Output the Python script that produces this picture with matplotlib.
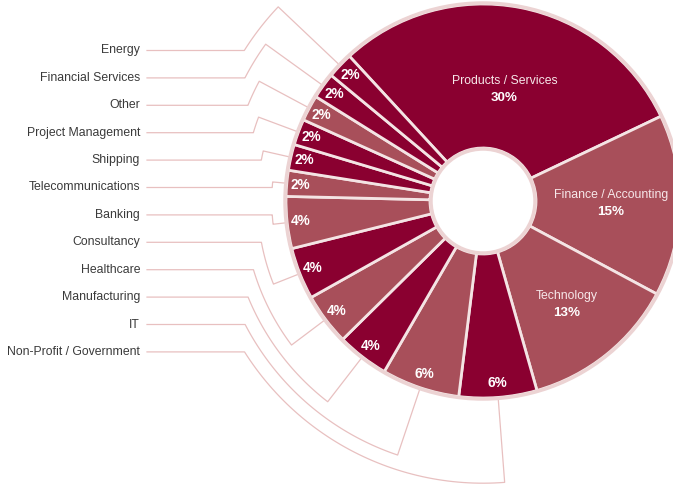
import numpy as np
import matplotlib
matplotlib.use("Agg")
import matplotlib.pyplot as plt
from matplotlib.patches import Circle

plt.rcParams['font.family'] = ['Liberation Sans', 'DejaVu Sans']

# ── data (clockwise from the top slice) ─────────────────────────────────────
sectors = ["Products / Services", "Finance / Accounting", "Technology",
           "Non-Profit / Government", "IT", "Manufacturing", "Healthcare",
           "Consultancy", "Banking", "Telecommunications", "Shipping",
           "Project Management", "Other", "Financial Services", "Energy"]
responses = [14, 7, 6, 3, 3, 2, 2, 2, 2, 1, 1, 1, 1, 1, 1]
inside_labels = ["Products / Services", "Finance / Accounting", "Technology"]

DARK, LIGHT = "#8a0030", "#a84f5a"
colors = [DARK, LIGHT, LIGHT, DARK, LIGHT, DARK, LIGHT, DARK, LIGHT,
          LIGHT, DARK, DARK, LIGHT, DARK, DARK]
LINE = "#e8c0c0"

# ── layout (pixel units, y pointing up) ─────────────────────────────────────
W, H = 673, 488
CX, CY = 483, H - 201
R_OUT, R_IN = 197, 53
label_r = {"Products / Services": 114, "Finance / Accounting": 128, "Technology": 133}

fig = plt.figure(figsize=(W / 100, H / 100), dpi=100)
ax = fig.add_axes([0, 0, 1, 1])

wedges, _ = ax.pie(responses, colors=colors, startangle=132.7, counterclock=False,
                   radius=R_OUT, center=(CX, CY),
                   wedgeprops=dict(width=R_OUT - R_IN, edgecolor="#f4e4e4", linewidth=2))
ax.add_patch(Circle((CX, CY), R_OUT + 1, fill=False, edgecolor="#ecd3d3", lw=2.5))
ax.add_patch(Circle((CX, CY), R_IN - 1, fill=False, edgecolor="#ecd3d3", lw=2.5))

total = sum(responses)
pct = [f"{round(100 * v / total)}%" for v in responses]

def mid_angle(w):
    return np.deg2rad((w.theta1 + w.theta2) / 2)

# big slices: name + percentage inside
for name, p, w in zip(sectors, pct, wedges):
    a = mid_angle(w)
    if name in inside_labels:
        r = label_r[name]
        x, y = CX + r * np.cos(a), CY + r * np.sin(a)
        ax.text(x, y + 8.5, name, ha="center", va="center", color="#f7e8ea", fontsize=8.8)
        ax.text(x, y - 8.5, p, ha="center", va="center", color="white",
                fontsize=9.6, fontweight="bold")
    else:
        x, y = CX + 183 * np.cos(a), CY + 183 * np.sin(a)
        ax.text(x, y, p, ha="center", va="center", color="white",
                fontsize=9.8, fontweight="bold")

# small slices: labels on the left with leader lines
side = [i for i, n in enumerate(sectors) if n not in inside_labels][::-1]
n_side = len(side)
for j, i in enumerate(side):
    y_lab = H - (50.5 + j * 27.4)
    k = (n_side // 2 - j) if j < n_side // 2 else (j - n_side // 2 + 1)
    R = R_OUT + 14.2 * k
    ax.text(140, y_lab, sectors[i], ha="right", va="center", color="#3a3a3a", fontsize=8.8)

    dy = y_lab - CY
    xk = CX - np.sqrt(R ** 2 - dy ** 2)
    a0 = np.arctan2(dy, xk - CX)
    a1 = mid_angle(wedges[i])
    a1 = a0 + (a1 - a0 + np.pi) % (2 * np.pi) - np.pi
    arc = np.linspace(a0, a1, 60)
    xs = [147] + list(CX + R * np.cos(arc)) + [CX + (R_OUT + 1) * np.cos(a1)]
    ys = [y_lab] + list(CY + R * np.sin(arc)) + [CY + (R_OUT + 1) * np.sin(a1)]
    ax.plot(xs, ys, color=LINE, lw=0.9, zorder=0)

ax.set_xlim(0, W)
ax.set_ylim(0, H)
ax.set_aspect("equal")
ax.axis("off")

fig.savefig("out.png", dpi=100, facecolor="white")
